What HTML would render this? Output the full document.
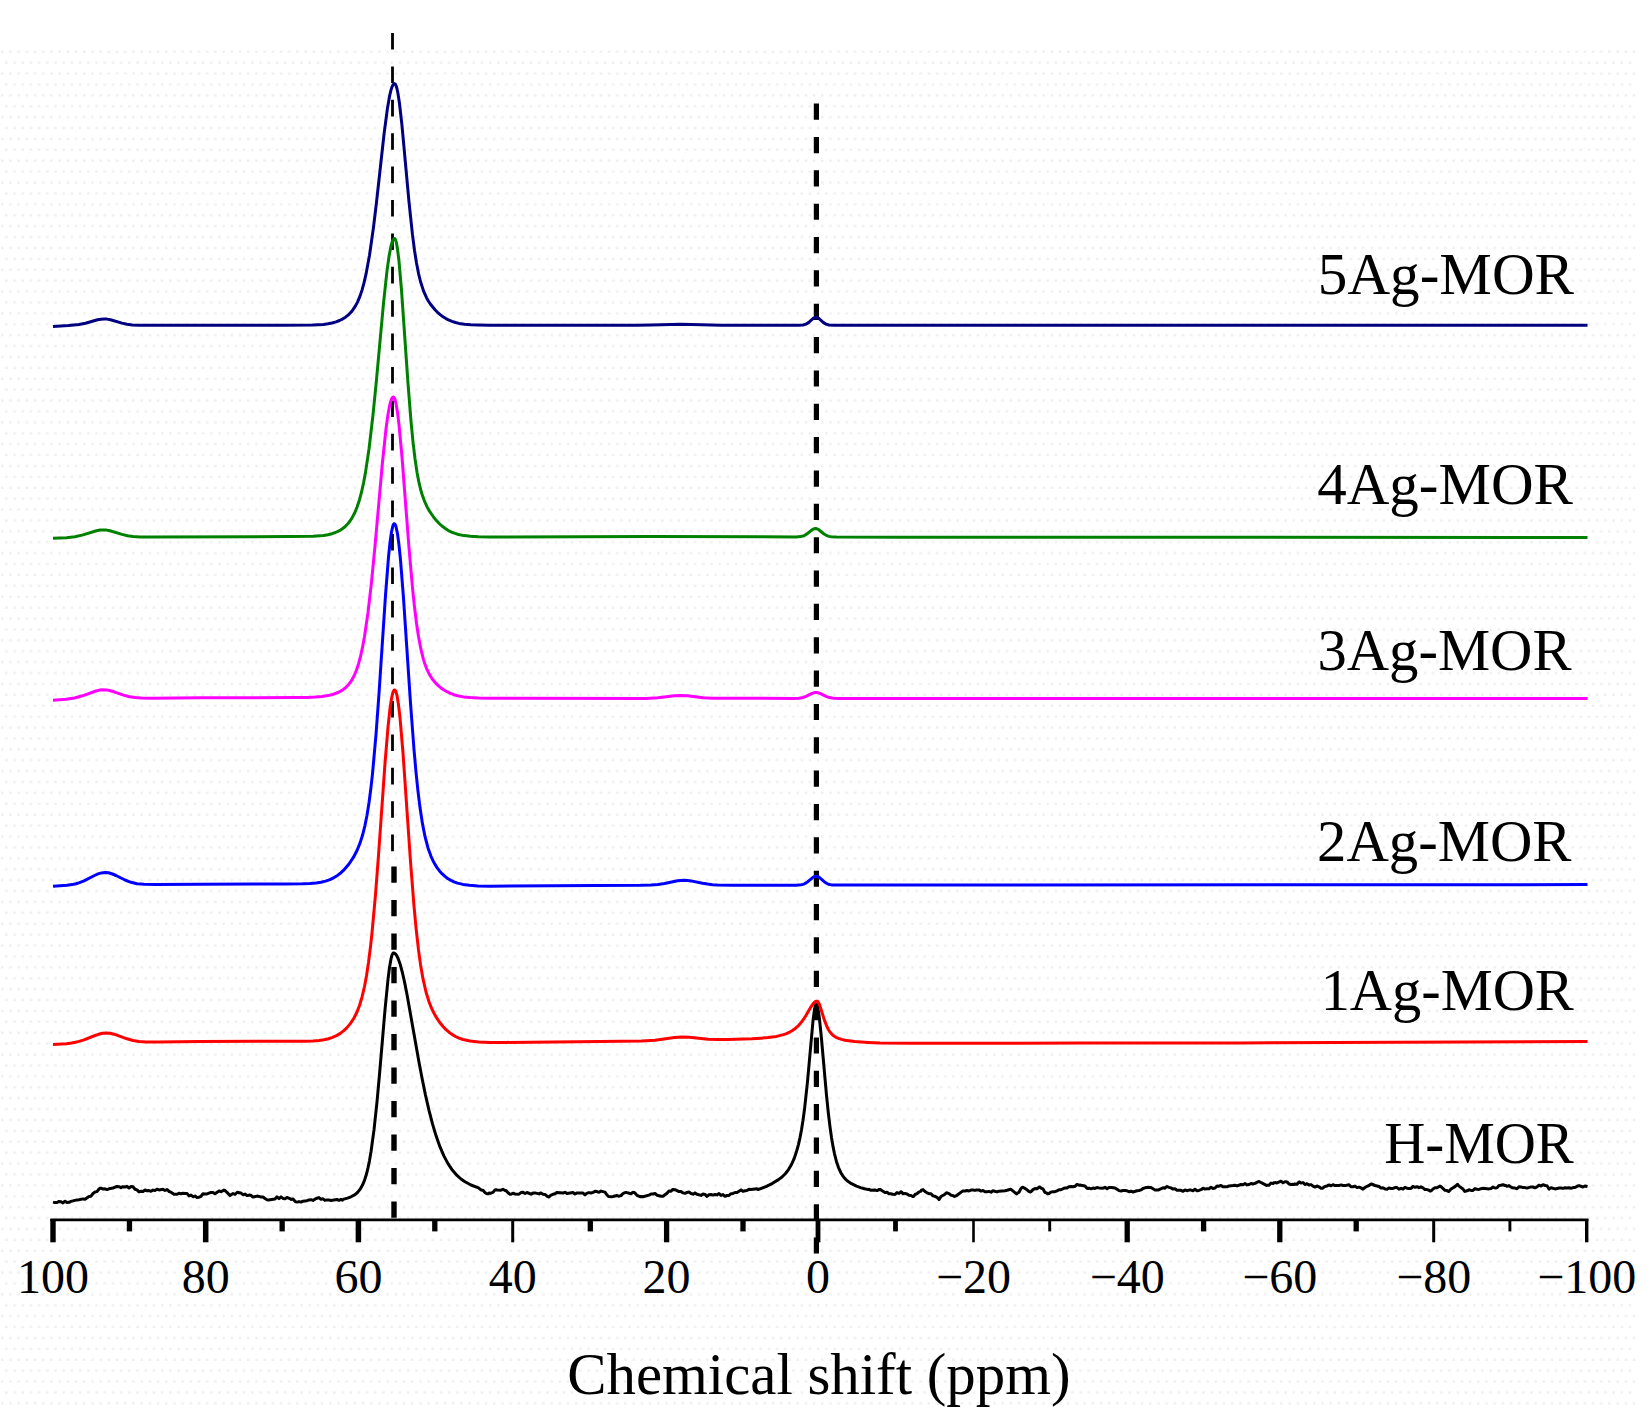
<!DOCTYPE html>
<html><head><meta charset="utf-8"><style>
html,body{margin:0;padding:0;background:#fff;overflow:hidden;}
svg{display:block;}
</style></head><body>
<svg width="1650" height="1426" viewBox="0 0 1650 1426">
<defs><pattern id="dots" x="0" y="50" width="16.4" height="21.8" patternUnits="userSpaceOnUse"><g fill="#efefef"><rect x="1" y="0.5" width="2.5" height="2.5"/><rect x="9.2" y="0.5" width="2.5" height="2.5"/><rect x="5.1" y="11.4" width="2.5" height="2.5"/><rect x="13.3" y="11.4" width="2.5" height="2.5"/></g></pattern></defs>
<rect width="1650" height="1426" fill="#fff"/>
<rect x="0" y="50" width="1636" height="1362" fill="url(#dots)"/>
<g stroke="#000" fill="none">
<path d="M392.5,33V866" stroke-width="2.8" stroke-dasharray="16.6,16.8"/>
<path d="M394,866.5V1218" stroke-width="5.4" stroke-dasharray="16.3,17.2"/>
<path d="M816.4,103.6V1253.5" stroke-width="5.2" stroke-dasharray="16.2,17.15"/>
</g>
<g fill="none" stroke-width="3" stroke-linejoin="round">
<path d="M53.0,1202.1 55.0,1202.6 57.0,1202.5 59.0,1201.4 61.0,1201.7 63.0,1202.9 65.0,1201.2 67.0,1202.6 69.0,1202.3 71.0,1201.4 77.0,1199.9 79.0,1199.7 83.0,1198.9 85.0,1199.2 89.0,1196.4 91.0,1196.2 93.0,1193.5 95.0,1192.0 97.0,1191.6 99.0,1189.0 100.0,1188.3 101.0,1188.2 103.0,1189.0 105.0,1188.8 107.0,1189.6 109.0,1188.8 113.0,1188.0 117.0,1186.4 119.0,1186.7 121.0,1187.7 123.0,1186.7 125.0,1187.0 127.0,1186.3 129.0,1188.0 131.0,1186.6 133.0,1186.8 135.0,1189.3 137.0,1189.9 139.0,1191.9 141.0,1191.3 143.0,1191.4 145.0,1190.0 147.0,1190.8 149.0,1190.6 151.0,1191.2 153.0,1190.1 155.0,1190.5 157.0,1189.3 159.0,1189.9 163.0,1189.3 165.0,1190.5 167.0,1189.6 168.0,1190.2 169.0,1191.5 171.0,1192.2 174.0,1194.3 177.0,1194.3 179.0,1193.2 181.0,1193.7 183.0,1193.3 185.0,1193.5 185.5,1193.4 187.0,1193.4 189.0,1195.9 191.0,1195.1 193.0,1196.7 195.0,1196.1 197.0,1197.4 199.0,1197.2 201.0,1196.3 203.0,1193.8 205.0,1194.0 207.0,1193.9 211.0,1192.4 213.0,1192.5 215.0,1193.8 219.0,1191.0 221.0,1191.7 224.0,1190.1 224.5,1190.2 227.0,1192.4 230.0,1195.5 233.0,1193.6 235.0,1194.3 237.0,1192.5 238.0,1192.3 239.0,1192.8 241.0,1193.1 243.0,1194.7 245.0,1194.1 247.0,1195.5 247.5,1195.6 249.0,1195.1 251.0,1195.3 253.0,1197.1 257.0,1196.1 259.0,1196.4 261.0,1197.1 263.0,1197.0 265.0,1198.5 267.0,1199.7 268.5,1200.0 275.0,1199.0 277.0,1196.9 279.0,1198.6 281.0,1196.8 283.0,1198.4 285.0,1198.7 287.0,1197.5 290.0,1198.6 291.0,1199.5 293.0,1198.9 295.0,1201.2 296.0,1201.9 297.0,1202.1 299.0,1201.6 301.0,1202.1 303.0,1201.2 307.0,1200.7 309.0,1199.9 311.0,1199.7 313.0,1200.4 315.0,1199.2 317.0,1198.2 319.0,1197.6 321.0,1199.3 323.0,1198.8 325.0,1200.4 327.0,1199.9 329.0,1199.9 331.0,1200.6 337.0,1199.5 339.0,1200.3 341.0,1199.4 342.5,1200.1 343.0,1199.4 347.5,1198.1 351.0,1196.8 355.0,1194.6 357.5,1192.5 360.0,1189.4 362.5,1185.1 364.5,1180.4 366.5,1174.0 368.0,1167.9 369.5,1160.6 371.0,1151.8 374.0,1129.9 377.0,1101.8 379.5,1074.5 385.0,1009.8 388.0,979.3 389.5,967.5 391.0,958.9 392.0,955.2 392.5,954.0 393.0,953.2 393.5,952.9 394.5,953.2 395.5,953.9 396.5,955.3 398.0,958.2 400.0,963.7 402.5,973.0 404.5,981.9 407.0,994.5 419.0,1062.2 422.5,1080.5 425.5,1095.1 429.0,1110.4 432.5,1123.9 436.0,1135.6 440.0,1146.9 444.0,1156.1 448.0,1163.6 452.5,1170.3 457.0,1175.4 461.0,1179.0 465.0,1181.8 471.0,1185.0 478.5,1187.8 481.0,1189.9 483.0,1190.2 485.0,1192.6 487.0,1193.7 488.5,1193.7 489.0,1193.1 491.0,1193.2 493.0,1192.4 495.0,1189.9 496.0,1189.7 497.0,1190.0 501.0,1190.2 503.0,1189.3 505.0,1190.5 506.0,1190.6 509.0,1193.6 510.0,1194.3 511.0,1194.3 513.0,1193.2 515.0,1194.0 519.0,1194.2 521.0,1192.6 523.0,1192.3 525.0,1193.5 527.0,1192.5 531.0,1194.2 533.0,1193.1 535.0,1192.9 539.0,1193.9 541.0,1192.9 543.0,1194.2 545.0,1194.4 547.0,1196.2 548.5,1196.9 549.0,1196.9 551.0,1195.1 553.0,1194.3 555.0,1193.8 556.5,1192.7 557.0,1192.5 563.0,1193.0 565.0,1192.3 567.0,1193.6 573.0,1192.5 575.0,1194.0 577.0,1192.9 583.0,1193.1 585.0,1194.9 587.0,1193.1 589.0,1192.6 591.0,1193.0 593.0,1192.3 595.0,1191.3 597.0,1191.6 599.0,1192.3 601.0,1191.1 605.0,1192.1 607.0,1195.0 608.5,1196.4 609.0,1196.6 611.0,1196.7 613.0,1196.5 617.0,1195.5 618.5,1196.2 621.0,1195.6 623.0,1193.5 625.0,1192.6 626.0,1192.4 631.0,1193.7 633.0,1192.3 634.0,1192.4 635.0,1193.0 637.0,1195.4 640.0,1196.7 641.0,1196.6 643.0,1196.8 649.0,1195.1 651.0,1194.0 653.0,1194.0 655.0,1193.5 657.0,1195.2 661.0,1196.3 663.0,1196.3 667.0,1193.3 669.0,1191.0 671.0,1191.2 672.5,1189.6 673.0,1189.4 675.0,1189.7 679.0,1191.6 681.0,1191.5 683.0,1192.9 685.0,1193.3 687.0,1192.4 689.0,1192.1 691.0,1193.5 693.0,1194.2 695.0,1192.9 697.0,1194.3 701.0,1195.4 703.0,1194.1 705.0,1194.4 707.0,1196.5 709.0,1194.7 711.0,1194.5 713.0,1195.1 715.0,1194.5 717.0,1194.9 719.0,1193.5 721.0,1195.4 723.0,1194.6 725.0,1196.3 727.0,1195.5 729.0,1195.5 731.0,1193.7 733.0,1193.4 735.0,1192.5 737.0,1192.4 741.0,1189.9 743.0,1191.4 745.0,1190.8 747.0,1190.6 749.0,1189.3 751.0,1189.5 757.0,1188.8 757.5,1189.0 758.0,1189.6 766.0,1186.6 772.5,1183.3 778.5,1179.6 782.0,1177.0 785.5,1173.5 788.5,1169.6 791.5,1164.5 794.0,1158.9 796.5,1151.6 798.5,1144.3 800.0,1137.6 801.5,1129.7 803.0,1120.3 804.5,1109.3 807.5,1081.7 813.0,1020.8 814.5,1009.4 815.5,1005.3 816.0,1004.5 816.5,1004.5 817.0,1005.3 817.5,1006.8 818.5,1011.8 819.5,1019.2 821.5,1039.0 826.5,1095.3 828.5,1114.5 830.0,1126.9 831.5,1137.5 833.0,1146.4 834.5,1153.8 836.5,1161.7 838.5,1167.6 841.0,1173.0 842.5,1175.4 844.0,1177.5 845.5,1179.1 847.5,1181.0 851.5,1183.7 856.5,1186.1 860.5,1187.6 864.5,1188.7 868.5,1189.6 869.0,1189.3 871.0,1190.3 875.0,1190.0 877.0,1190.6 879.0,1189.6 880.0,1189.5 881.0,1189.9 885.0,1192.4 887.0,1192.3 889.0,1193.8 891.0,1193.7 891.5,1194.0 893.0,1194.3 895.0,1194.4 897.0,1192.6 899.0,1193.5 901.0,1191.7 902.0,1192.5 903.0,1193.7 905.0,1193.4 907.0,1194.0 909.0,1195.3 911.0,1195.5 913.0,1196.6 913.5,1196.5 914.0,1196.0 915.0,1194.5 917.0,1193.7 919.0,1192.0 921.0,1191.1 921.5,1190.2 923.0,1189.6 925.0,1191.5 927.0,1192.8 929.0,1193.7 931.0,1193.8 933.0,1195.9 935.0,1196.3 937.0,1197.3 939.0,1199.6 941.0,1196.5 945.0,1194.2 946.5,1192.8 947.0,1192.8 949.0,1193.6 951.0,1195.2 953.0,1195.6 954.5,1196.5 957.0,1195.3 962.5,1191.1 963.0,1190.9 965.0,1191.0 967.0,1190.5 969.0,1191.0 971.0,1190.1 973.0,1190.0 975.0,1190.4 976.0,1190.1 979.0,1189.9 981.0,1191.1 983.0,1190.5 985.0,1191.7 987.0,1191.8 989.0,1191.4 991.0,1192.2 993.0,1190.7 997.0,1191.9 999.0,1191.2 1005.0,1190.7 1007.0,1190.3 1010.5,1189.3 1011.0,1189.4 1016.5,1193.9 1017.0,1193.4 1019.0,1192.2 1021.0,1188.5 1022.0,1187.5 1022.5,1187.2 1025.0,1188.4 1027.0,1189.8 1029.0,1191.5 1030.0,1192.0 1031.0,1191.6 1033.0,1189.6 1035.0,1188.5 1037.0,1188.8 1039.0,1187.1 1039.5,1186.9 1040.0,1187.1 1041.0,1188.2 1043.0,1188.9 1045.0,1192.4 1047.0,1193.2 1047.5,1193.8 1049.0,1193.5 1051.0,1192.1 1053.0,1191.7 1055.0,1191.7 1057.0,1190.9 1059.0,1189.7 1061.0,1189.8 1063.0,1188.7 1065.0,1188.0 1067.0,1187.9 1069.0,1186.7 1071.0,1186.4 1073.0,1186.7 1075.0,1186.3 1077.0,1184.4 1079.0,1185.2 1080.5,1185.0 1081.0,1185.3 1085.0,1186.0 1087.0,1188.3 1088.0,1188.5 1089.0,1188.1 1091.0,1188.8 1093.0,1188.1 1095.0,1188.4 1097.0,1187.5 1099.0,1187.9 1103.0,1188.2 1105.0,1187.3 1107.0,1188.8 1109.0,1187.5 1111.5,1187.5 1115.0,1188.0 1119.0,1190.6 1121.0,1191.0 1123.0,1190.5 1125.0,1190.5 1127.0,1190.8 1129.0,1191.7 1131.0,1191.2 1133.0,1192.0 1137.0,1190.8 1139.0,1190.5 1141.0,1189.9 1143.0,1188.5 1145.0,1187.8 1148.5,1187.3 1149.0,1187.5 1151.0,1187.6 1155.0,1190.1 1157.0,1189.9 1158.0,1190.1 1163.0,1187.8 1165.0,1188.2 1165.5,1187.5 1167.0,1186.5 1169.0,1187.4 1171.0,1187.9 1173.0,1189.1 1175.0,1188.8 1177.0,1190.2 1181.0,1190.3 1183.0,1191.3 1185.0,1189.9 1187.0,1190.7 1189.0,1190.1 1191.0,1190.1 1193.0,1190.7 1195.0,1189.3 1197.0,1190.7 1199.0,1190.4 1201.0,1189.7 1203.0,1188.2 1205.0,1189.1 1207.0,1188.8 1209.0,1188.8 1211.0,1187.3 1213.0,1188.5 1215.0,1188.0 1217.0,1186.1 1219.0,1186.2 1221.0,1185.4 1223.0,1186.8 1227.0,1186.8 1229.0,1185.9 1233.0,1185.6 1235.0,1185.3 1237.0,1185.9 1241.0,1184.5 1243.0,1184.7 1245.0,1183.6 1247.0,1184.9 1249.0,1184.5 1251.0,1183.5 1253.0,1184.0 1255.0,1183.4 1258.5,1181.5 1259.0,1181.5 1266.5,1185.4 1267.0,1185.2 1269.0,1185.3 1271.0,1183.1 1273.0,1183.5 1274.0,1182.8 1275.0,1182.6 1277.0,1182.9 1281.0,1181.2 1283.0,1182.8 1285.0,1181.7 1286.0,1181.7 1287.0,1181.9 1289.0,1184.0 1291.0,1184.5 1293.0,1184.3 1293.5,1184.6 1295.0,1183.9 1297.0,1184.2 1299.0,1181.9 1299.5,1182.0 1301.0,1183.1 1303.0,1182.6 1305.0,1184.5 1307.0,1183.7 1309.0,1185.1 1311.0,1184.6 1313.0,1186.1 1315.0,1187.1 1317.0,1186.0 1319.0,1186.8 1321.0,1188.2 1322.5,1188.3 1325.0,1186.4 1327.0,1186.1 1328.5,1185.1 1329.0,1185.0 1331.0,1185.8 1333.0,1184.7 1335.0,1185.6 1337.0,1185.4 1339.0,1185.6 1341.0,1184.9 1343.0,1185.5 1345.0,1185.6 1349.0,1184.7 1351.0,1186.8 1353.0,1186.7 1355.0,1186.1 1357.0,1187.6 1359.0,1187.1 1361.0,1187.9 1363.0,1189.1 1365.0,1187.5 1367.0,1186.3 1369.0,1185.5 1371.0,1184.1 1371.5,1184.0 1375.0,1185.5 1379.0,1186.5 1381.0,1188.0 1382.0,1188.1 1383.0,1187.8 1385.0,1188.9 1387.0,1189.2 1389.0,1187.9 1391.0,1188.5 1393.0,1188.4 1395.0,1187.6 1397.0,1187.6 1399.0,1189.2 1401.0,1188.3 1403.0,1189.0 1405.0,1187.4 1407.0,1188.2 1409.0,1188.6 1411.0,1188.4 1413.0,1186.4 1415.0,1187.3 1417.0,1186.8 1418.0,1187.0 1419.0,1187.7 1421.0,1186.9 1423.0,1187.9 1425.0,1189.6 1427.0,1189.6 1429.0,1190.2 1430.0,1190.9 1431.0,1191.0 1433.0,1189.0 1435.0,1187.7 1437.0,1187.7 1440.0,1186.1 1441.0,1186.6 1445.0,1190.3 1447.0,1190.6 1448.5,1191.5 1449.0,1191.3 1451.0,1189.0 1455.0,1186.6 1457.5,1184.3 1459.0,1186.1 1463.0,1189.0 1464.5,1191.1 1465.0,1191.4 1467.0,1190.8 1469.0,1189.8 1471.0,1190.4 1473.0,1190.4 1475.0,1188.6 1477.0,1189.2 1479.0,1189.4 1481.0,1188.7 1483.0,1188.3 1489.0,1188.9 1491.0,1188.5 1493.0,1187.1 1495.0,1188.0 1497.0,1187.7 1499.0,1185.5 1501.0,1185.3 1503.0,1184.7 1505.0,1185.5 1505.5,1185.4 1507.0,1186.3 1509.0,1185.6 1511.0,1187.2 1512.5,1187.8 1515.0,1188.1 1517.0,1188.8 1519.0,1186.8 1521.0,1186.9 1523.0,1187.6 1525.0,1187.6 1527.0,1188.1 1531.0,1186.9 1533.0,1187.0 1535.0,1187.8 1537.0,1186.9 1539.0,1185.2 1541.0,1186.1 1543.0,1184.7 1544.5,1185.1 1545.0,1185.5 1547.0,1185.7 1549.0,1189.1 1551.0,1187.8 1555.0,1188.9 1557.0,1188.6 1559.0,1188.0 1561.0,1188.0 1563.0,1188.4 1565.0,1187.8 1567.0,1188.0 1569.0,1187.8 1571.0,1188.3 1573.0,1187.6 1575.0,1187.5 1578.0,1185.9 1579.0,1185.6 1583.0,1187.0 1585.0,1186.0 1587.5,1186.5" stroke="#000000"/>
<path d="M53.0,1044.6 66.5,1043.7 71.5,1043.0 75.5,1042.3 79.0,1041.4 84.0,1039.9 95.0,1035.5 98.5,1034.3 102.5,1033.3 106.0,1033.0 110.0,1033.3 114.0,1034.2 127.0,1038.8 133.0,1040.5 139.0,1041.5 146.0,1042.0 158.5,1042.1 200.0,1041.4 291.0,1041.3 305.0,1041.2 313.0,1040.9 319.0,1040.5 324.0,1039.8 328.5,1038.7 332.5,1037.4 336.5,1035.6 340.0,1033.6 343.5,1030.9 346.5,1028.1 350.5,1023.4 354.0,1018.0 357.0,1012.0 359.5,1005.5 362.0,997.2 364.5,986.5 366.5,975.7 368.5,962.5 370.5,946.7 372.0,933.0 375.5,894.6 378.5,855.3 385.0,763.3 388.0,727.1 390.0,708.5 391.5,698.5 393.0,692.2 394.0,690.2 394.5,689.9 395.0,690.1 395.5,690.7 396.0,691.9 397.0,695.6 398.5,704.8 400.0,717.7 403.0,752.9 410.5,861.5 414.0,906.2 416.0,927.6 418.5,949.9 420.5,964.4 423.0,978.9 426.0,992.0 429.0,1001.7 431.0,1006.9 433.0,1011.3 435.0,1015.1 437.5,1019.2 440.0,1022.8 443.0,1026.5 446.0,1029.6 449.0,1032.2 452.0,1034.4 455.5,1036.5 459.0,1038.1 463.0,1039.5 470.0,1041.0 478.5,1041.9 490.0,1042.4 506.0,1042.4 600.0,1041.6 641.5,1041.0 655.0,1040.2 674.5,1037.6 682.0,1037.0 689.5,1037.3 708.0,1039.2 718.0,1039.6 727.5,1039.5 752.0,1038.7 760.5,1038.2 768.0,1037.6 776.5,1036.4 783.5,1034.6 786.5,1033.6 789.5,1032.2 792.0,1030.8 794.5,1029.1 798.5,1025.6 802.5,1020.8 805.5,1016.2 811.0,1006.8 813.0,1003.9 815.0,1001.9 816.0,1001.3 817.0,1001.2 817.5,1001.3 818.0,1001.7 819.5,1004.5 824.5,1020.4 827.0,1026.8 828.5,1029.7 830.0,1032.0 831.5,1033.8 833.5,1035.7 836.0,1037.3 838.5,1038.4 841.5,1039.4 845.0,1040.2 854.5,1041.5 868.0,1042.4 880.0,1043.0 912.5,1043.2 1083.5,1043.1 1240.0,1042.9 1587.5,1041.4" stroke="#FF0000"/>
<path d="M53.0,886.2 67.0,885.3 72.0,884.6 76.0,883.7 79.5,882.6 84.0,880.8 94.5,875.5 98.0,873.9 101.5,872.9 105.0,872.5 108.5,872.8 112.5,874.0 116.0,875.5 125.0,880.0 131.0,882.3 137.0,883.7 144.0,884.3 156.0,884.5 200.0,884.2 284.5,884.0 302.5,883.8 310.0,883.5 316.0,883.0 321.0,882.2 325.5,881.1 330.0,879.6 334.0,877.6 337.5,875.4 341.0,872.7 344.5,869.3 349.0,864.0 353.5,857.2 357.0,850.5 360.0,843.1 362.5,835.3 365.0,825.3 367.0,815.2 369.0,802.7 371.0,787.3 372.5,773.8 376.0,734.7 379.0,693.7 385.5,595.3 388.5,557.1 390.0,542.5 391.5,531.8 393.0,525.4 393.5,524.3 394.0,523.8 394.5,523.7 395.0,524.2 396.0,526.6 397.5,533.8 399.0,545.1 400.5,559.9 403.5,598.1 410.5,703.0 414.0,749.5 416.0,772.1 418.0,791.4 420.0,807.6 422.5,823.9 425.0,836.5 428.0,847.9 431.0,856.3 433.0,860.7 435.0,864.4 437.0,867.6 439.5,870.9 442.0,873.7 445.0,876.4 448.0,878.7 451.0,880.4 454.0,881.9 457.5,883.1 463.0,884.4 469.5,885.3 478.0,885.9 490.0,886.2 640.5,885.3 651.0,885.0 658.0,884.5 664.5,883.5 677.5,880.8 681.0,880.4 684.5,880.3 687.5,880.4 691.0,880.9 702.5,883.3 707.5,884.1 712.5,884.7 717.5,885.0 732.0,885.2 796.0,885.2 801.0,884.8 803.0,884.4 804.5,883.8 807.5,881.9 813.0,877.3 814.5,876.5 816.0,876.2 817.5,876.5 819.0,877.2 824.5,881.9 827.5,883.8 829.5,884.5 831.5,884.9 837.0,885.1 1587.5,884.6" stroke="#0000FF"/>
<path d="M53.0,700.2 66.0,699.3 74.5,698.0 82.5,695.8 96.0,691.0 99.5,690.1 102.5,689.8 106.5,689.9 110.5,690.7 114.0,691.8 123.5,695.1 129.5,696.7 135.0,697.6 141.5,698.1 152.5,698.2 200.0,697.8 295.5,697.6 307.5,697.4 315.5,697.1 322.0,696.5 328.0,695.6 333.5,694.2 338.0,692.5 342.0,690.4 345.5,687.8 348.5,684.7 351.5,680.6 354.0,676.0 356.5,670.0 358.5,663.9 360.5,656.5 362.5,647.4 364.5,636.5 368.0,612.5 371.5,582.1 375.0,546.1 382.5,462.0 386.0,428.8 388.0,414.3 390.0,403.8 391.0,400.3 392.0,398.1 393.0,397.1 393.5,397.1 394.0,397.5 394.5,398.3 395.0,399.6 396.0,403.5 397.5,412.4 399.0,424.6 402.0,457.0 409.0,547.8 412.5,587.9 414.5,607.0 416.5,623.2 418.5,636.5 421.0,649.7 423.5,659.6 425.0,664.3 426.5,668.3 429.5,674.6 431.5,677.8 433.5,680.5 436.0,683.4 438.5,685.8 441.0,687.9 444.0,690.0 447.0,691.7 450.5,693.4 454.0,694.7 457.5,695.7 463.5,696.9 470.0,697.6 478.5,698.1 490.0,698.3 646.0,698.4 658.0,697.8 674.5,695.8 681.0,695.4 687.5,695.8 703.0,697.8 712.5,698.3 793.0,698.4 799.0,698.2 803.0,697.5 806.0,696.4 812.5,693.2 814.5,692.6 816.0,692.5 817.5,692.6 819.5,693.2 826.0,696.4 829.5,697.6 833.5,698.2 839.5,698.4 1587.5,698.6" stroke="#FF00FF"/>
<path d="M53.0,538.3 66.5,537.7 75.0,536.8 83.0,534.9 96.5,530.7 100.0,530.1 103.0,529.9 106.5,530.1 110.0,530.8 122.0,534.4 127.5,535.7 133.0,536.5 140.0,537.0 151.5,537.1 290.0,536.6 313.0,536.3 323.5,535.5 328.0,534.7 332.0,533.7 335.5,532.5 339.0,530.9 342.0,529.0 345.0,526.7 348.5,523.0 351.5,518.9 354.5,513.3 357.0,507.3 359.5,499.7 361.5,492.2 363.5,483.1 365.5,472.4 369.0,449.0 373.0,414.9 376.0,384.8 383.5,303.4 387.0,270.9 389.0,256.5 391.0,246.0 392.0,242.4 393.0,239.9 394.0,238.7 394.5,238.6 395.0,238.9 395.5,239.7 396.5,243.2 397.5,248.9 399.0,261.3 401.5,290.0 408.0,383.3 411.0,421.1 413.0,441.8 415.0,458.7 417.0,472.2 419.0,482.7 420.5,489.0 422.0,494.3 425.0,502.4 427.0,506.7 429.0,510.3 433.5,517.0 436.0,520.1 439.0,523.3 442.0,526.0 445.0,528.3 448.0,530.3 451.5,532.1 455.0,533.4 458.5,534.5 464.0,535.6 470.5,536.3 478.5,536.8 490.0,537.0 650.0,536.6 796.0,536.9 800.5,536.6 804.0,535.7 807.0,533.9 812.5,529.5 814.0,528.8 815.5,528.5 817.0,528.8 818.5,529.5 824.0,534.0 827.0,535.7 829.0,536.4 831.0,536.8 836.5,537.0 900.0,537.2 1587.5,537.4" stroke="#008000"/>
<path d="M53.0,326.4 68.5,325.6 79.0,324.5 85.5,323.2 97.5,319.8 101.0,319.2 104.0,319.0 107.0,319.1 110.5,319.8 122.0,323.1 127.0,324.2 132.5,324.9 139.5,325.3 284.5,325.3 312.5,325.1 323.5,324.4 328.0,323.8 332.0,323.0 336.0,321.9 339.5,320.5 342.5,319.1 345.5,317.2 349.0,314.3 352.0,311.1 355.0,306.7 357.5,302.1 360.0,296.1 362.0,290.1 364.0,282.9 366.0,274.2 369.5,255.3 373.5,227.2 376.5,202.2 384.0,134.5 387.5,107.9 389.5,96.4 391.0,90.0 392.0,86.9 393.0,84.8 394.0,83.7 394.5,83.6 395.0,83.8 395.5,84.4 396.0,85.5 397.0,88.8 398.0,93.6 399.5,103.5 402.0,125.6 409.0,201.8 412.5,234.9 414.5,250.3 416.5,263.0 418.5,273.3 420.5,281.5 423.5,290.9 426.5,297.7 428.5,301.2 430.5,304.3 435.0,309.8 437.5,312.3 440.5,314.9 443.0,316.7 446.0,318.6 449.0,320.2 452.0,321.4 455.5,322.5 459.0,323.4 464.5,324.2 471.0,324.8 478.5,325.1 489.5,325.3 636.5,325.3 651.0,325.1 681.0,324.3 721.5,325.2 798.5,325.3 803.0,325.0 806.0,324.1 808.5,322.6 813.5,318.2 815.0,317.5 816.0,317.3 817.0,317.5 818.5,318.2 823.5,322.6 826.0,324.1 829.0,325.0 834.0,325.3 1587.5,325.3" stroke="#000080"/>
</g>
<g stroke="#000" fill="none">
<path d="M50.3,1219.9H1588.4" stroke-width="2.8"/>
<path d="M53.00,1219V1242.3" stroke-width="5.4"/><path d="M129.45,1219V1231.4" stroke-width="5.3"/><path d="M205.70,1219V1242.3" stroke-width="5.5"/><path d="M282.15,1219V1231.4" stroke-width="5.3"/><path d="M358.40,1219V1242.3" stroke-width="5.5"/><path d="M434.80,1219V1231.4" stroke-width="5.3"/><path d="M512.70,1219V1242.3" stroke-width="3.0"/><path d="M590.30,1219V1231.4" stroke-width="5.3"/><path d="M666.60,1219V1242.3" stroke-width="5.3"/><path d="M743.00,1219V1231.4" stroke-width="5.3"/><path d="M818.00,1219V1242.3" stroke-width="4.8"/><path d="M895.50,1219V1231.4" stroke-width="4.8"/><path d="M973.50,1219V1242.3" stroke-width="2.6"/><path d="M1049.70,1219V1231.4" stroke-width="2.9"/><path d="M1127.20,1219V1242.3" stroke-width="5.3"/><path d="M1203.60,1219V1231.4" stroke-width="5.3"/><path d="M1279.80,1219V1242.3" stroke-width="5.3"/><path d="M1356.20,1219V1231.4" stroke-width="5.3"/><path d="M1433.70,1219V1242.3" stroke-width="3.0"/><path d="M1509.90,1219V1231.4" stroke-width="2.9"/><path d="M1586.70,1219V1242.3" stroke-width="3.4"/>
</g>
<g font-family="Liberation Serif, serif" fill="#000">
<g font-size="48"><text x="53.0" y="1293.2" text-anchor="middle">100</text><text x="205.7" y="1293.2" text-anchor="middle">80</text><text x="358.4" y="1293.2" text-anchor="middle">60</text><text x="512.7" y="1293.2" text-anchor="middle">40</text><text x="666.6" y="1293.2" text-anchor="middle">20</text><text x="818.0" y="1293.2" text-anchor="middle">0</text><text x="973.5" y="1293.2" text-anchor="middle">&#8722;20</text><text x="1127.2" y="1293.2" text-anchor="middle">&#8722;40</text><text x="1279.8" y="1293.2" text-anchor="middle">&#8722;60</text><text x="1433.7" y="1293.2" text-anchor="middle">&#8722;80</text><text x="1586.7" y="1293.2" text-anchor="middle">&#8722;100</text></g>
<text x="567.34" y="1394" font-size="60" textLength="503.15" lengthAdjust="spacingAndGlyphs">Chemical shift (ppm)</text>
<g font-size="60">
<text x="1317.84" y="294" textLength="256.17" lengthAdjust="spacingAndGlyphs">5Ag-MOR</text>
<text x="1317.22" y="503.8" textLength="255.7" lengthAdjust="spacingAndGlyphs">4Ag-MOR</text>
<text x="1317.47" y="669.8" textLength="254.05" lengthAdjust="spacingAndGlyphs">3Ag-MOR</text>
<text x="1317.06" y="860.6" textLength="254.45" lengthAdjust="spacingAndGlyphs">2Ag-MOR</text>
<text x="1320.63" y="1010.2" textLength="253.18" lengthAdjust="spacingAndGlyphs">1Ag-MOR</text>
<text x="1384.2" y="1163.4" textLength="189.61" lengthAdjust="spacingAndGlyphs">H-MOR</text>
</g>
</g>
</svg>
</body></html>
